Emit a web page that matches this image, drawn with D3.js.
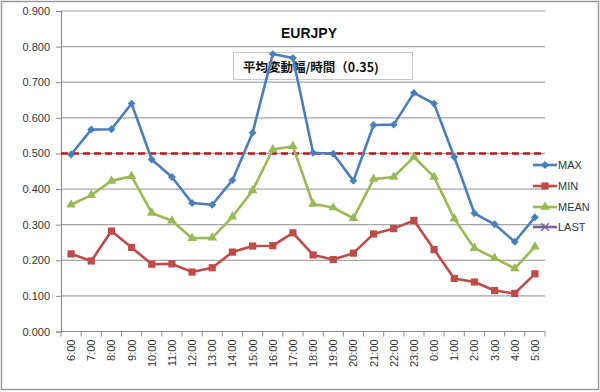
<!DOCTYPE html>
<html>
<head>
<meta charset="utf-8">
<script src="https://cdn.jsdelivr.net/npm/d3@7"></script>
<style>
  html, body { margin: 0; padding: 0; background: #fff; }
  svg { display: block; }
</style>
</head>
<body>
<div id="chart"></div>
<script>
// hours on the x axis
var hours = ["6:00","7:00","8:00","9:00","10:00","11:00","12:00","13:00","14:00","15:00","16:00","17:00",
             "18:00","19:00","20:00","21:00","22:00","23:00","0:00","1:00","2:00","3:00","4:00","5:00"]

var maxValues  = [0.497,0.567,0.568,0.640,0.483,0.434,0.361,0.356,0.425,0.558,0.779,0.768,
                  0.502,0.499,0.423,0.580,0.581,0.670,0.640,0.490,0.332,0.301,0.252,0.321]
var minValues  = [0.218,0.198,0.282,0.236,0.189,0.190,0.167,0.179,0.223,0.240,0.241,0.277,
                  0.215,0.202,0.220,0.274,0.289,0.312,0.230,0.149,0.139,0.115,0.107,0.162]
var meanValues = [0.356,0.383,0.423,0.436,0.333,0.311,0.262,0.263,0.322,0.396,0.511,0.520,
                  0.358,0.348,0.318,0.428,0.434,0.490,0.434,0.317,0.234,0.206,0.177,0.238]
var lastValues = []   // LAST only shows up in the legend

var yTicks = [0,0.1,0.2,0.3,0.4,0.5,0.6,0.7,0.8,0.9]
var refLine = 0.5
var chartTitle = "EURJPY"
var noteText = "平均変動幅/時間（0.35)"

var W = 600, H = 392
// plot area (window.top is reserved, so no plain "top")
var pLeft = 61, pRight = 545, pTop = 11, pBottom = 331.5

var svg = d3.select("#chart").append("svg").attr("width", W).attr("height", H)
var font = "'Liberation Sans', Arial, sans-serif"

// outer frame
svg.append("rect").attr("x",1.5).attr("y",1.5).attr("width",W-3).attr("height",H-4)
    .attr("fill","#fff").attr("stroke","#9a9a9a").attr("stroke-width",1.5)

var x = d3.scaleBand().domain(hours).range([pLeft, pRight])
var y = d3.scaleLinear().domain([0, 0.9]).range([pBottom, pTop])

// gridlines
svg.append("g").selectAll("line").data(yTicks.slice(1)).enter().append("line")
    .attr("x1", pLeft).attr("x2", pRight)
    .attr("y1", d => y(d)).attr("y2", d => y(d))
    .attr("stroke","#a6a6a6").attr("stroke-width",1.2)

// y axis
var yAxis = svg.append("g").attr("transform","translate("+pLeft+",0)")
    .call(d3.axisLeft(y).tickValues(yTicks).tickFormat(d3.format(".3f")).tickSize(5).tickPadding(6))
yAxis.select(".domain").attr("stroke","#8c8c8c").attr("stroke-width",1.2)
yAxis.selectAll(".tick line").attr("stroke","#8c8c8c")
yAxis.selectAll("text").attr("font-family",font).attr("font-size","11px").attr("fill","#333")

// x axis with ticks between categories
var xg = svg.append("g")
xg.append("line").attr("x1",pLeft).attr("x2",pRight).attr("y1",pBottom).attr("y2",pBottom)
    .attr("stroke","#8c8c8c").attr("stroke-width",1.2)
xg.selectAll(".xt").data(d3.range(hours.length+1)).enter().append("line")
    .attr("x1", i => pLeft + i*x.step()).attr("x2", i => pLeft + i*x.step())
    .attr("y1", pBottom).attr("y2", pBottom+5).attr("stroke","#8c8c8c")
xg.selectAll("text").data(hours).enter().append("text")
    .attr("transform", d => "translate(" + (x(d)+x.bandwidth()/2+4) + "," + (pBottom+8) + ") rotate(-90)")
    .attr("text-anchor","end")
    .attr("font-family",font).attr("font-size","11px").attr("fill","#333")
    .text(d => d)

// note box (drawn behind the series)
svg.append("rect").attr("x",233.5).attr("y",52.5).attr("width",179).attr("height",27)
    .attr("fill","#fff").attr("stroke","#c8c8c8")
svg.append("text").attr("x",243).attr("y",72)
    .attr("font-family","'Noto Sans CJK JP', sans-serif").attr("font-weight","bold")
    .attr("font-size","12.5px").attr("fill","#111").text(noteText)

// title
svg.append("text").attr("x",309).attr("y",38).attr("text-anchor","middle")
    .attr("font-family",font).attr("font-weight","bold").attr("font-size","14px").attr("fill","#111")
    .text(chartTitle)

// 0.5 reference line
svg.append("line").attr("x1",pLeft).attr("x2",pRight-3).attr("y1",y(refLine)).attr("y2",y(refLine))
    .attr("stroke","#c0161b").attr("stroke-width",2.5).attr("stroke-dasharray","7,4")

var series = [
  {name:"MAX",  values:maxValues,  color:"#4a7ebb", marker:"diamond"},
  {name:"MIN",  values:minValues,  color:"#be4b48", marker:"square"},
  {name:"MEAN", values:meanValues, color:"#98b954", marker:"triangle"},
  {name:"LAST", values:lastValues, color:"#7d60a0", marker:"cross"}
]

function markerPath(kind) {
  if (kind == "diamond") return d3.symbol().type(d3.symbolDiamond2).size(40)()
  if (kind == "square") return d3.symbol().type(d3.symbolSquare).size(52)()
  if (kind == "triangle") return d3.symbol().type(d3.symbolTriangle).size(40)()
  return d3.symbol().type(d3.symbolX).size(40)()
}

var line = d3.line().x((d,i) => x(hours[i]) + x.bandwidth()/2).y(d => y(d))

series.forEach(function(s) {
  if (s.values.length == 0) return
  svg.append("path").datum(s.values).attr("d", line)
      .attr("fill","none").attr("stroke",s.color).attr("stroke-width",2.6).attr("stroke-linejoin","round")
  svg.append("g").selectAll("path").data(s.values).enter().append("path")
      .attr("transform",(d,i) => "translate(" + (x(hours[i]) + x.bandwidth()/2) + "," + y(d) + ")")
      .attr("d", markerPath(s.marker)).attr("fill",s.color)
})

// legend
var lg = svg.append("g")
var legY = [165, 186, 207, 227]
series.forEach(function(s, i) {
  lg.append("line").attr("x1",533).attr("x2",557).attr("y1",legY[i]).attr("y2",legY[i])
      .attr("stroke",s.color).attr("stroke-width",2.6)
  var m = lg.append("path").attr("transform","translate(545,"+legY[i]+")").attr("d", markerPath(s.marker))
  if (s.marker == "cross") m.attr("fill","none").attr("stroke",s.color).attr("stroke-width",1.5)
  else m.attr("fill",s.color)
  lg.append("text").attr("x",558).attr("y",legY[i]+4).attr("font-family",font)
      .attr("font-size","11px").attr("fill","#333").text(s.name)
})
</script>
</body>
</html>
